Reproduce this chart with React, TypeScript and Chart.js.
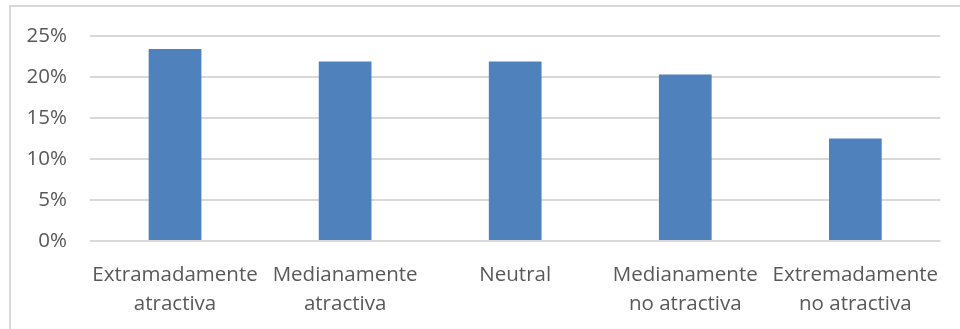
import React, { useEffect, useRef } from "react";
import { Chart, registerables } from "chart.js";

Chart.register(...registerables);

// Share of responses per attractiveness rating
const categories: string[][] = [
  ["Extramadamente", "atractiva"],
  ["Medianamente", "atractiva"],
  ["Neutral"],
  ["Medianamente", "no atractiva"],
  ["Extremadamente", "no atractiva"],
];
const shares: number[] = [0.234, 0.219, 0.219, 0.203, 0.125];
const yTicks: number[] = [0, 0.05, 0.1, 0.15, 0.2, 0.25];

const TEXT = "#595959";
const GRID = "#d9d9d9";
const FONT = "'Open Sans', sans-serif";

export default function App() {
  const canvasRef = useRef<HTMLCanvasElement | null>(null);

  useEffect(() => {
    if (!canvasRef.current) return;
    const chart = new Chart(canvasRef.current, {
      type: "bar",
      data: {
        labels: categories,
        datasets: [
          {
            data: shares,
            backgroundColor: "#4f81bd",
            borderWidth: 0,
            barPercentage: 0.31,
            categoryPercentage: 1,
          },
        ],
      },
      options: {
        animation: false,
        responsive: false,
        maintainAspectRatio: false,
        layout: { padding: { top: 36, right: 19, bottom: 0, left: 0 } },
        plugins: { legend: { display: false }, tooltip: { enabled: false } },
        scales: {
          x: {
            grid: { display: false, drawTicks: false },
            border: { display: false },
            ticks: {
              color: TEXT,
              font: { family: FONT, size: 20.5, lineHeight: 1.41 },
              padding: 20,
              maxRotation: 0,
              autoSkip: false,
            },
            afterFit: (scale: any) => {
              scale.height = 88;
            },
          },
          y: {
            min: 0,
            max: 0.25,
            afterBuildTicks: (scale: any) => {
              scale.ticks = yTicks.map((v) => ({ value: v }));
            },
            grid: { color: GRID, lineWidth: 2, drawTicks: false },
            border: { display: false },
            ticks: {
              color: TEXT,
              font: { family: FONT, size: 20.5 },
              padding: 23,
              callback: (v: any) => `${Math.round(Number(v) * 100)}%`,
            },
            afterFit: (scale: any) => {
              scale.width = 90;
            },
          },
        },
      },
    });
    return () => chart.destroy();
  }, []);

  return (
    <div
      style={{
        position: "fixed",
        left: 0,
        top: 0,
        width: 960,
        height: 329,
        background: "#ffffff",
        overflow: "hidden",
      }}
    >
      <div
        style={{
          position: "absolute",
          left: 9,
          top: 5,
          width: 960,
          height: 340,
          borderTop: `2px solid ${GRID}`,
          borderLeft: `2px solid ${GRID}`,
        }}
      />
      <canvas
        ref={canvasRef}
        width={960}
        height={329}
        style={{ position: "absolute", left: 0, top: 0 }}
      />
    </div>
  );
}
